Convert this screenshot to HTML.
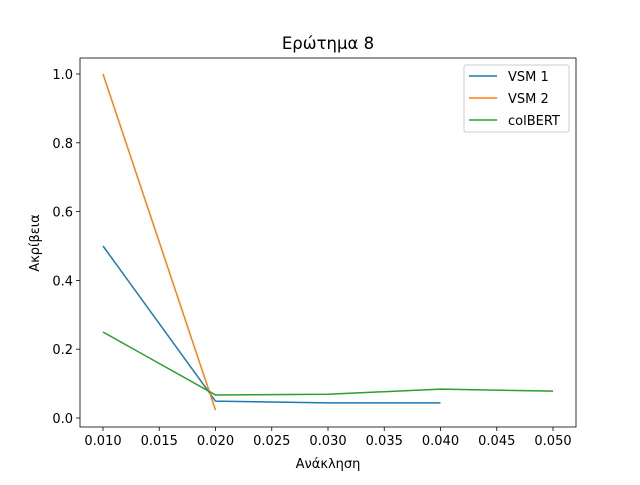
<!DOCTYPE html>
<html><head><meta charset="utf-8"><style>
body{margin:0;background:#fff}
svg text{font-family:"DejaVu Sans","Liberation Sans",sans-serif;fill:#000}
</style></head><body>
<svg id="c" width="640" height="480" xmlns="http://www.w3.org/2000/svg">
<rect width="640" height="480" fill="#fff"/>
<text x="328" y="49" font-size="16.5" text-anchor="middle">Ερώτημα 8</text>
<g id="plot"></g>
<text x="328" y="468" font-size="13" text-anchor="middle">Ανάκληση</text>
<text transform="translate(39,243) rotate(-90)" font-size="13" text-anchor="middle">Ακρίβεια</text>
</svg>
<script>
const xTicks=[0.010,0.015,0.020,0.025,0.030,0.035,0.040,0.045,0.050];
const yTicks=[0.0,0.2,0.4,0.6,0.8,1.0];
const seriesNames=["VSM 1","VSM 2","colBERT"];
const seriesColors=["#1f77b4","#ff7f0e","#2ca02c"];
const vsm1X=[0.01,0.02,0.03,0.04];
const vsm1Y=[0.5,0.049,0.044,0.044];
const vsm2X=[0.01,0.02];
const vsm2Y=[1.0,0.023];
const colbertX=[0.01,0.02,0.03,0.04,0.05];
const colbertY=[0.25,0.067,0.069,0.084,0.078];
const L=80,R=576,T=58,B=427;
const sx=v=>103+(v-0.01)/0.04*450;
const sy=v=>418-v*344;
const NS="http://www.w3.org/2000/svg";
const g=document.getElementById('plot');
function mk(t,a){const e=document.createElementNS(NS,t);for(const k in a)e.setAttribute(k,a[k]);g.appendChild(e);return e;}
xTicks.forEach(v=>{const x=sx(v);
 const l=mk('line',{x1:x,x2:x,y1:B,y2:B+4,stroke:'#000','stroke-width':0.8});
 
 
 const t=mk('text',{x:x,y:B+18,'font-size':13,'text-anchor':'middle'});t.textContent=v.toFixed(3);
 
 });
yTicks.forEach(v=>{const y=sy(v);
 const l=mk('line',{x1:L-4,x2:L,y1:y,y2:y,stroke:'#000','stroke-width':0.8});
 
 
 const t=mk('text',{x:L-7,y:y+5,'font-size':13,'text-anchor':'end'});t.textContent=v.toFixed(1);
 
 });
const data=[[vsm1X,vsm1Y],[vsm2X,vsm2Y],[colbertX,colbertY]];
data.forEach((d,i)=>{const p=mk('polyline',{points:d[0].map((x,j)=>sx(x)+','+sy(d[1][j])).join(' '),fill:'none',stroke:seriesColors[i],'stroke-width':1.5});
 
 });
const fr=mk('rect',{x:L,y:T,width:R-L,height:B-T,fill:'none',stroke:'#000','stroke-width':0.8});


const lg=mk('rect',{x:464,y:65,width:105,height:67,fill:'#fff',stroke:'#ccc',rx:2});


seriesNames.forEach((n,i)=>{const y=76+i*22;
 const l=mk('line',{x1:469,x2:497,y1:y,y2:y,stroke:seriesColors[i],'stroke-width':1.5});
 
 
 const t=mk('text',{x:508,y:y+5,'font-size':13});t.textContent=n;
 
 });
</script>
</body></html>
